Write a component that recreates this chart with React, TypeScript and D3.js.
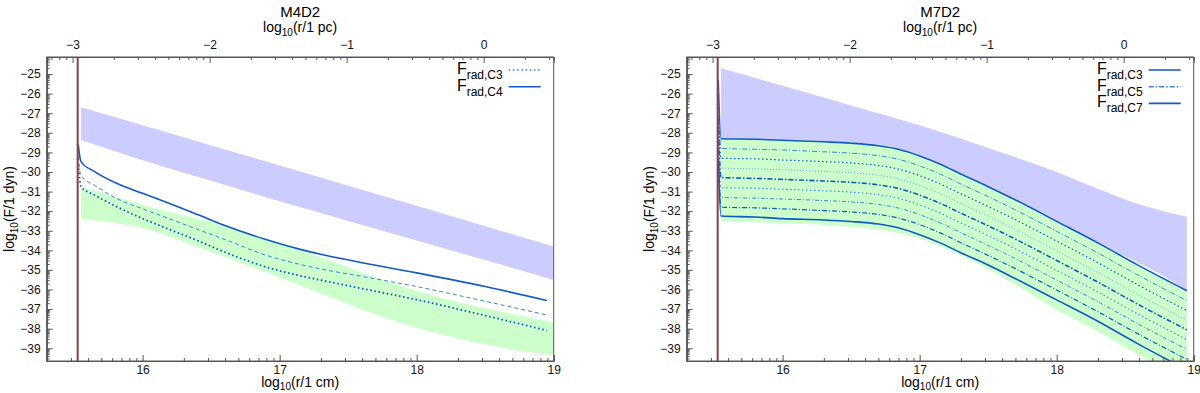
import { useRef, useEffect } from "react";
import * as d3 from "d3";

// log10 of one parsec in cm, for the top axis
const PC = 18.489;

// ---- left panel (M4D2) ----
const leftBlueX = [15.55, 16.0, 16.5, 17.0, 17.5, 18.0, 18.5, 19.0];
const leftBlueTop = [-26.7, -27.62, -28.65, -29.67, -30.7, -31.72, -32.77, -33.81];
const leftBlueBot = [-28.37, -29.4, -30.45, -31.5, -32.5, -33.5, -34.5, -35.51];

const leftGreenX = [15.55, 15.8, 16.05, 16.35, 16.66, 17.08, 17.34, 17.75, 18.24, 18.6, 19.0];
const leftGreenTop = [-30.75, -31.25, -31.77, -32.3, -32.87, -33.85, -34.45, -35.5, -36.53, -37.1, -37.69];
const leftGreenBot = [-32.41, -32.6, -32.95, -33.7, -34.5, -35.6, -36.3, -37.4, -38.4, -38.95, -39.37];

const leftX = [15.53, 15.55, 15.65, 15.81, 16.0, 16.13, 16.4, 16.61, 16.9, 17.15, 17.3, 17.6, 18.0, 18.5, 18.95];
const leftC4 = [-28.6, -29.47, -29.98, -30.58, -31.09, -31.43, -32.17, -32.76, -33.45, -33.95, -34.2, -34.63, -35.15, -35.85, -36.56];
const leftMid = [-29.2, -30.2, -30.68, -31.35, -31.88, -32.22, -32.93, -33.47, -34.25, -34.72, -34.95, -35.33, -35.85, -36.6, -37.3];
const leftC3 = [-29.6, -30.75, -31.18, -31.77, -32.38, -32.75, -33.5, -34.12, -34.85, -35.3, -35.52, -35.95, -36.52, -37.33, -38.09];

// ---- right panel (M7D2) ----
const rightBlueX = [15.55, 16.0, 16.5, 17.0, 17.5, 18.0, 18.25, 18.5, 18.75, 18.95];
const rightBlueTop = [-24.71, -25.6, -26.6, -27.62, -28.78, -30.0, -30.72, -31.4, -31.95, -32.28];
const rightBlueBot = [-28.3, -28.38, -28.53, -29.25, -30.75, -32.52, -33.45, -34.3, -35.2, -36.06];

const rightGreenX = [15.55, 16.0, 16.5, 16.8, 17.0, 17.2, 17.5, 17.97, 18.3, 18.6, 18.95];
const rightGreenTop = [-28.28, -28.36, -28.5, -28.72, -29.15, -29.75, -30.72, -32.42, -33.6, -34.76, -36.04];
const rightGreenBot = [-32.5, -32.62, -32.8, -33.05, -33.4, -33.95, -34.95, -36.9, -38.15, -39.35, -40.8];

const rightX = [15.53, 15.55, 15.8, 16.0, 16.3, 16.5, 16.7, 16.85, 17.0, 17.15, 17.3, 17.5, 17.7, 18.0, 18.3, 18.6, 18.95];
const rightL1 = [-25.3, -28.3, -28.33, -28.38, -28.46, -28.53, -28.66, -28.85, -29.18, -29.6, -30.1, -30.75, -31.43, -32.52, -33.62, -34.78, -36.06];
const rightL2 = [-25.8, -28.8, -28.84, -28.88, -28.97, -29.04, -29.17, -29.36, -29.69, -30.11, -30.61, -31.26, -31.94, -33.03, -34.13, -35.29, -36.57];
const rightL3 = [-26.3, -29.3, -29.33, -29.39, -29.47, -29.54, -29.67, -29.86, -30.19, -30.61, -31.11, -31.76, -32.44, -33.53, -34.63, -35.79, -37.07];
const rightL4 = [-26.8, -29.8, -29.84, -29.89, -29.97, -30.04, -30.17, -30.36, -30.69, -31.11, -31.61, -32.26, -32.94, -34.03, -35.13, -36.29, -37.57];
const rightL5 = [-27.3, -30.28, -30.33, -30.38, -30.46, -30.53, -30.66, -30.85, -31.18, -31.6, -32.1, -32.75, -33.43, -34.52, -35.62, -36.78, -38.06];
const rightL6 = [-27.8, -30.8, -30.83, -30.88, -30.96, -31.03, -31.16, -31.35, -31.68, -32.1, -32.6, -33.25, -33.93, -35.02, -36.12, -37.28, -38.56];
const rightL7 = [-28.3, -31.3, -31.34, -31.38, -31.46, -31.53, -31.66, -31.85, -32.18, -32.6, -33.1, -33.75, -34.43, -35.52, -36.62, -37.78, -39.06];
const rightL8 = [-28.8, -31.8, -31.83, -31.88, -31.97, -32.04, -32.17, -32.36, -32.69, -33.11, -33.61, -34.26, -34.94, -36.03, -37.13, -38.29, -39.56];
const rightL9 = [-29.3, -32.25, -32.3, -32.38, -32.45, -32.53, -32.66, -32.86, -33.2, -33.62, -34.12, -34.75, -35.45, -36.53, -37.62, -38.8, -40.1];

const xTicks = [16, 17, 18, 19];
const pcTicks = [-3, -2, -1, 0];
const yTicks = [-39, -38, -37, -36, -35, -34, -33, -32, -31, -30, -29, -28, -27, -26, -25];
const wallX = 15.526;

const FONT = "Liberation Sans, Arial, sans-serif";
const BLUE = "#1159c4";
const LIGHTBLUE = "#3f82d8";

type Series = { x: number[]; y: number[]; dash: string; width: number; color: string };

type Panel = {
  title: string;
  left: number;
  blue: { x: number[]; top: number[]; bot: number[] };
  green: { x: number[]; top: number[]; bot: number[] };
  lines: Series[];
  legend: { label: string; dash: string; width: number }[];
};

const panels: Panel[] = [
  {
    title: "M4D2",
    left: 46.7,
    blue: { x: leftBlueX, top: leftBlueTop, bot: leftBlueBot },
    green: { x: leftGreenX, top: leftGreenTop, bot: leftGreenBot },
    lines: [
      { x: leftX, y: leftC3, dash: "1.6,2.6", width: 1.8, color: BLUE },
      { x: leftX, y: leftMid, dash: "4,3", width: 1, color: LIGHTBLUE },
      { x: leftX, y: leftC4, dash: "", width: 1.6, color: BLUE },
    ],
    legend: [
      { label: "C3", dash: "1.6,2.6", width: 1.5 },
      { label: "C4", dash: "", width: 1.6 },
    ],
  },
  {
    title: "M7D2",
    left: 686.7,
    blue: { x: rightBlueX, top: rightBlueTop, bot: rightBlueBot },
    green: { x: rightGreenX, top: rightGreenTop, bot: rightGreenBot },
    lines: [
      { x: rightX, y: rightL1, dash: "", width: 1.6, color: BLUE },
      { x: rightX, y: rightL2, dash: "5,2,1,2", width: 1, color: LIGHTBLUE },
      { x: rightX, y: rightL3, dash: "1.5,2.5", width: 1.2, color: BLUE },
      { x: rightX, y: rightL4, dash: "1,2", width: 0.9, color: "#5a98de" },
      { x: rightX, y: rightL5, dash: "5,2,1.5,2", width: 1.6, color: BLUE },
      { x: rightX, y: rightL6, dash: "1.5,2.5", width: 1.1, color: LIGHTBLUE },
      { x: rightX, y: rightL7, dash: "4,2,1,2", width: 1, color: LIGHTBLUE },
      { x: rightX, y: rightL8, dash: "5,2,1,2", width: 1.2, color: BLUE },
      { x: rightX, y: rightL9, dash: "", width: 1.6, color: BLUE },
    ],
    legend: [
      { label: "C3", dash: "", width: 1.6 },
      { label: "C5", dash: "5,2,1.5,2", width: 1.4 },
      { label: "C7", dash: "", width: 1.6 },
    ],
  },
];

function logMinors(lo: number, hi: number) {
  const out: number[] = [];
  for (let n = Math.floor(lo) - 1; n <= Math.ceil(hi); n++) {
    for (let k = 2; k <= 9; k++) {
      const v = n + Math.log10(k);
      if (v > lo && v < hi) out.push(v);
    }
  }
  return out;
}

const minus = (d: d3.NumberValue) => String(d).replace("-", "\u2212");

function drawPanel(svg: d3.Selection<SVGSVGElement, unknown, null, undefined>, p: Panel) {
  const w = 507;
  const top = 57;
  const bottom = 361;
  const x = d3.scaleLinear().domain([15.3, 19.0]).range([p.left, p.left + w]);
  const xPc = d3.scaleLinear().domain([15.3 - PC, 19.0 - PC]).range([p.left, p.left + w]);
  const y = d3.scaleLinear().domain([-39.65, -24.13]).range([bottom, top]);

  const clipId = "clip-" + p.title;
  svg
    .append("clipPath")
    .attr("id", clipId)
    .append("rect")
    .attr("x", p.left)
    .attr("y", top)
    .attr("width", w)
    .attr("height", bottom - top);

  const plot = svg.append("g").attr("clip-path", `url(#${clipId})`);

  // Bands
  const band = d3
    .area<number>()
    .x((d) => x(d))
    .curve(d3.curveMonotoneX);
  plot
    .append("path")
    .attr("d", band.y0((d, i) => y(p.blue.bot[i])).y1((d, i) => y(p.blue.top[i]))(p.blue.x))
    .attr("fill", "#ccccff");
  plot
    .append("path")
    .attr("d", band.y0((d, i) => y(p.green.bot[i])).y1((d, i) => y(p.green.top[i]))(p.green.x))
    .attr("fill", "#ccffcc");

  // Lines
  const line = d3
    .line<[number, number]>()
    .x((d) => x(d[0]))
    .y((d) => y(d[1]))
    .curve(d3.curveMonotoneX);
  p.lines.forEach((s) => {
    plot
      .append("path")
      .attr("d", line(s.x.map((v, i) => [v, s.y[i]] as [number, number])))
      .attr("fill", "none")
      .attr("stroke", s.color)
      .attr("stroke-width", s.width)
      .attr("stroke-dasharray", s.dash || null);
  });

  // Wall line
  plot
    .append("line")
    .attr("x1", x(wallX))
    .attr("x2", x(wallX))
    .attr("y1", top)
    .attr("y2", bottom)
    .attr("stroke", "#8b3f3f")
    .attr("stroke-width", 2);

  const axisColor = "#555";

  // Bottom axis
  const gx = svg
    .append("g")
    .attr("transform", `translate(0,${bottom})`)
    .call(d3.axisBottom(x).tickValues(xTicks).tickSize(-6).tickPadding(4).tickFormat(d3.format("d")));
  svg
    .append("g")
    .attr("transform", `translate(0,${bottom})`)
    .call(d3.axisBottom(x).tickValues(logMinors(15.3, 19)).tickSize(-3).tickFormat(() => ""));

  // Top axis
  const gt = svg
    .append("g")
    .attr("transform", `translate(0,${top})`)
    .call(d3.axisTop(xPc).tickValues(pcTicks).tickSize(-6).tickPadding(8).tickFormat(minus));
  svg
    .append("g")
    .attr("transform", `translate(0,${top})`)
    .call(d3.axisTop(xPc).tickValues(logMinors(15.3 - PC, 19 - PC)).tickSize(-3).tickFormat(() => ""));

  // Left axis
  const gy = svg
    .append("g")
    .attr("transform", `translate(${p.left},0)`)
    .call(d3.axisLeft(y).tickValues(yTicks).tickSize(-6).tickPadding(6).tickFormat(minus));
  svg
    .append("g")
    .attr("transform", `translate(${p.left},0)`)
    .call(d3.axisLeft(y).tickValues(logMinors(-39.65, -24.13)).tickSize(-3).tickFormat(() => ""));

  svg.selectAll(".domain").attr("stroke", axisColor);
  svg.selectAll(".tick line").attr("stroke", axisColor);
  [gx, gt, gy].forEach((g) => g.selectAll("text").attr("font-family", FONT).attr("font-size", 12).attr("fill", "#111"));

  // Frame
  svg
    .append("rect")
    .attr("x", p.left)
    .attr("y", top)
    .attr("width", w)
    .attr("height", bottom - top)
    .attr("fill", "none")
    .attr("stroke", axisColor)
    .attr("stroke-width", 1);

  const cx = p.left + w / 2;

  // Title
  svg
    .append("text")
    .attr("x", cx)
    .attr("y", 17)
    .attr("text-anchor", "middle")
    .attr("font-family", FONT)
    .attr("font-size", 15)
    .text(p.title);

  // Axis labels
  const topLab = svg
    .append("text")
    .attr("x", cx)
    .attr("y", 32)
    .attr("text-anchor", "middle")
    .attr("font-family", FONT)
    .attr("font-size", 14);
  topLab.append("tspan").text("log");
  topLab.append("tspan").attr("font-size", 10).attr("dy", 4).text("10");
  topLab.append("tspan").attr("dy", -4).text("(r/1 pc)");

  const botLab = svg
    .append("text")
    .attr("x", cx)
    .attr("y", 387)
    .attr("text-anchor", "middle")
    .attr("font-family", FONT)
    .attr("font-size", 14);
  botLab.append("tspan").text("log");
  botLab.append("tspan").attr("font-size", 10).attr("dy", 3).text("10");
  botLab.append("tspan").attr("dy", -3).text("(r/1 cm)");

  const yLab = svg
    .append("text")
    .attr("transform", `translate(${p.left - 33},${(top + bottom) / 2}) rotate(-90)`)
    .attr("text-anchor", "middle")
    .attr("font-family", FONT)
    .attr("font-size", 14);
  yLab.append("tspan").text("log");
  yLab.append("tspan").attr("font-size", 10).attr("dy", 4).text("10");
  yLab.append("tspan").attr("dy", -4).text("(F/1 dyn)");

  // Legend
  p.legend.forEach((l, i) => {
    const ly = 70 + i * 16.7;
    const t = svg
      .append("text")
      .attr("x", p.left + 456)
      .attr("y", ly + 4)
      .attr("text-anchor", "end")
      .attr("font-family", FONT)
      .attr("font-size", 16);
    t.append("tspan").text("F");
    t.append("tspan").attr("font-size", 12).attr("dy", 5).text("rad," + l.label);
    svg
      .append("line")
      .attr("x1", p.left + 462)
      .attr("x2", p.left + 494)
      .attr("y1", ly)
      .attr("y2", ly)
      .attr("stroke", l.dash ? LIGHTBLUE : BLUE)
      .attr("stroke-width", l.width)
      .attr("stroke-dasharray", l.dash || null);
  });
}

export default function App() {
  const svgRef = useRef<SVGSVGElement>(null);

  useEffect(() => {
    const svg = d3.select(svgRef.current!);
    svg.selectAll("*").remove();
    panels.forEach((p) => drawPanel(svg, p));
  }, []);

  return (
    <svg
      ref={svgRef}
      width={1200}
      height={393}
      style={{ position: "absolute", left: 0, top: 0, background: "white" }}
    />
  );
}
